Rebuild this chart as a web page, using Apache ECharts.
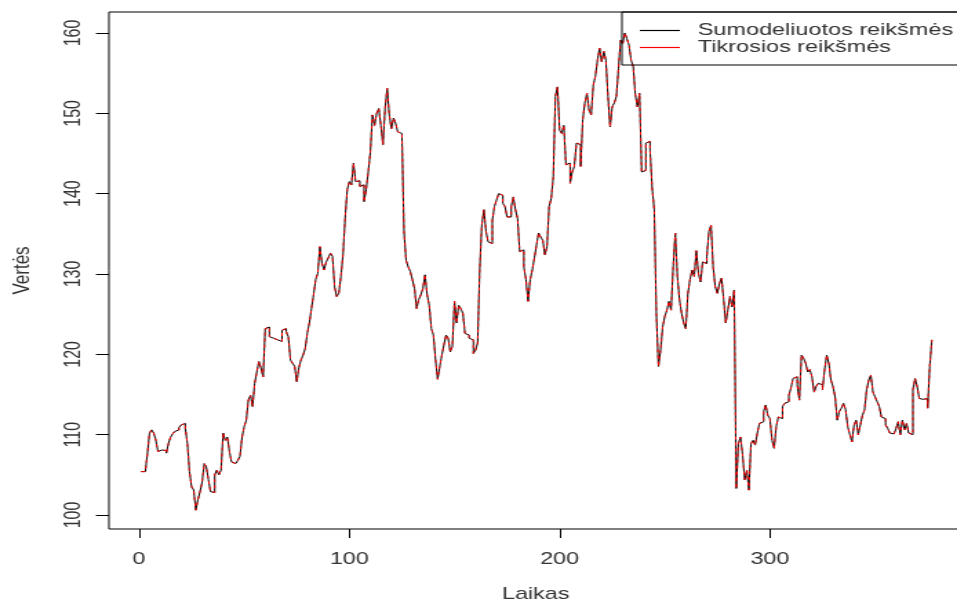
<!DOCTYPE html>
<html>
<head>
<meta charset="utf-8">
<script src="https://cdn.jsdelivr.net/npm/echarts@6/dist/echarts.min.js"></script>
<style>
html,body{margin:0;padding:0;overflow:hidden;background:#fff;}
#wrap{width:957px;height:601px;overflow:hidden;position:relative;}
#chart{width:694px;height:601px;transform:scaleX(1.379);transform-origin:0 0;}
</style>
</head>
<body>
<div id="wrap"><div id="chart"></div></div>
<script>
const xTicks = [0, 100, 200, 300];
const yTicks = [100, 110, 120, 130, 140, 150, 160];
const seriesNames = ['Sumodeliuotos reikšmės', 'Tikrosios reikšmės'];
const xTitle = 'Laikas';
const yTitle = 'Vertės';

// Tikrosios reikšmės (t = 1..377)
const tikrosios = [
105.4,105.4,105.4,107.7,110.2,110.6,110.2,109.3,107.9,108.1,
108.0,108.0,107.7,108.9,109.7,110.1,110.4,110.6,110.9,111.2,
111.4,110.8,108.9,105.4,103.5,103.1,100.6,101.9,102.9,104.1,
106.4,106.0,104.4,102.9,102.8,105.0,105.6,105.0,105.6,110.2,
109.3,109.7,107.9,106.6,106.4,106.6,106.8,107.3,109.7,111.0,
111.8,114.3,114.9,113.5,116.4,117.8,119.1,118.3,117.2,123.2,
123.4,122.2,122.0,122.0,121.8,121.8,121.6,123.0,123.2,122.8,
122.2,119.3,118.9,118.5,116.6,118.3,119.3,119.9,120.7,122.6,
123.9,125.7,127.4,129.3,130.1,133.4,131.3,130.5,131.5,132.0,
132.6,132.2,128.4,127.2,127.6,129.7,132.4,136.9,140.5,141.5,
141.1,143.8,141.5,141.6,140.9,141.1,139.0,140.5,142.7,145.2,
149.8,148.5,150.0,150.6,148.5,146.1,150.6,153.1,149.8,148.1,
149.4,148.8,147.7,147.5,147.3,135.3,131.7,130.9,130.3,129.3,
128.2,125.7,126.8,127.4,128.2,129.9,127.4,126.1,123.2,122.4,
119.3,116.9,118.5,119.9,121.2,122.4,122.0,120.3,121.0,126.6,
123.9,126.1,125.7,125.1,122.6,122.4,122.0,121.8,120.1,120.5,
121.4,130.5,136.1,138.0,135.3,134.0,133.8,136.7,138.4,139.2,
140.0,139.8,138.8,138.4,137.1,137.1,138.4,139.6,138.0,136.9,
132.8,133.0,130.9,129.3,126.6,129.3,130.5,132.0,133.6,135.1,
134.6,134.2,132.4,133.4,138.4,139.4,142.1,152.1,153.3,147.9,
147.5,148.5,143.6,143.8,141.3,142.7,143.4,146.3,146.1,143.4,
149.2,151.3,152.5,150.4,149.8,153.5,154.6,156.6,158.1,156.4,
157.7,156.6,152.1,148.3,150.8,151.3,152.1,155.6,159.1,158.7,
160.0,159.3,158.5,156.6,155.8,152.3,150.8,152.5,142.7,142.9,
146.3,146.5,145.4,140.7,138.0,125.1,118.5,120.5,123.4,124.7,
125.5,126.6,125.5,130.9,135.1,129.7,126.8,125.1,123.9,123.2,
127.6,129.3,130.5,129.7,132.9,130.1,129.0,131.5,131.3,132.2,
135.3,136.1,130.9,128.4,127.6,128.8,129.5,126.8,123.9,125.5,
127.2,125.9,128.0,103.3,108.9,109.7,107.5,104.4,105.6,103.1,
108.9,109.3,108.7,110.2,111.4,111.6,112.9,113.7,112.4,112.0,
109.3,108.3,111.0,112.2,112.0,113.5,113.9,114.1,114.9,115.8,
117.0,117.2,116.2,114.3,119.9,119.5,118.9,117.8,118.1,117.2,
115.3,116.0,116.4,116.2,115.6,118.1,119.9,118.9,116.8,116.0,
114.7,111.8,112.9,113.3,113.9,113.1,111.0,110.0,109.1,111.2,
111.8,110.0,111.2,112.4,113.1,115.6,116.8,117.4,115.3,114.7,
114.1,113.5,112.2,112.0,111.2,110.8,110.2,110.1,110.2,110.8,
111.6,110.0,111.8,110.6,111.4,110.2,110.0,115.6,117.0,116.0,
114.5,114.4,114.3,114.5,113.3,118.5,121.8
];
// Sumodeliuotos reikšmės: visually identical to the real values
const sumodeliuotos = tikrosios.slice();

const chart = echarts.init(document.getElementById('chart'), null, {renderer: 'canvas'});
const font = 'Liberation Sans, Arial, sans-serif';
const txt = '#333';

const option = {
  animation: false,
  backgroundColor: '#fff',
  grid: {left: 79, right: -4, top: 12, bottom: 72, containLabel: false, outerBoundsMode: 'none',
    show: true, borderColor: '#000', borderWidth: 1, backgroundColor: 'transparent'},
  legend: {
    orient: 'vertical', left: 451, top: 12,
    padding: [10, 60, 9, 13], itemGap: 0,
    borderColor: '#000', borderWidth: 1,
    icon: 'rect', itemWidth: 29, itemHeight: 1.2,
    data: seriesNames,
    formatter: n => '{a|' + n + '}',
    textStyle: {fontFamily: font, fontSize: 17, color: txt, lineHeight: 17,
      rich: {a: {fontFamily: font, fontSize: 17, color: txt, lineHeight: 17, padding: [0, 0, 0, 8]}}},
    selectedMode: false
  },
  xAxis: {
    type: 'value', min: -14.3, max: 391.6,
    name: xTitle, nameLocation: 'middle', nameGap: 57,
    nameTextStyle: {fontFamily: font, fontSize: 17, color: txt},
    axisLine: {show: false, onZero: false},
    axisTick: {show: true, inside: false, length: 9, customValues: xTicks, lineStyle: {color: '#000'}},
    axisLabel: {customValues: xTicks, fontFamily: font, fontSize: 17, color: txt, margin: 22},
    splitLine: {show: false}
  },
  yAxis: {
    type: 'value', min: 98.257, max: 162.614,
    name: yTitle, nameLocation: 'middle', nameGap: 54, nameRotate: 90,
    nameTextStyle: {fontFamily: font, fontSize: 17, color: txt},
    axisLine: {show: false, onZero: false},
    axisTick: {show: true, inside: false, length: 9.4, customValues: yTicks, lineStyle: {color: '#000'}},
    axisLabel: {customValues: yTicks, rotate: 90, fontFamily: font, fontSize: 16, color: txt, margin: 17},
    splitLine: {show: false}
  },
  series: [
    {name: seriesNames[0], type: 'line', step: 'end', showSymbol: false, symbol: 'none',
     data: sumodeliuotos.map((v, i) => [i + 1, v]),
     itemStyle: {color: '#000'}, lineStyle: {color: '#000', width: 1}},
    {name: seriesNames[1], type: 'line', step: 'end', showSymbol: false, symbol: 'none',
     data: tikrosios.map((v, i) => [i + 1, v]),
     itemStyle: {color: '#ff0000'}, lineStyle: {color: '#ff0000', width: 1, type: [3, 3]}}
  ]
};
chart.setOption(option);
</script>
</body>
</html>
